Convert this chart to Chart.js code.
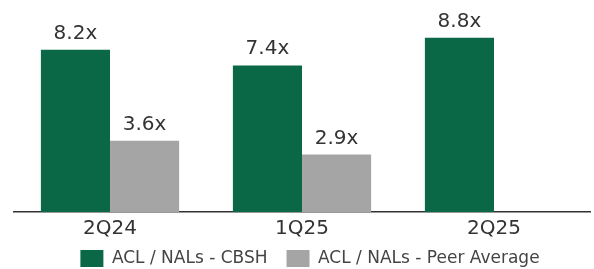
<!DOCTYPE html>
<html>
<head>
<meta charset="utf-8">
<script src="https://cdn.jsdelivr.net/npm/chart.js@4.4.1/dist/chart.umd.min.js"></script>
<style>
  html, body { margin: 0; padding: 0; background: #fff; }
  #wrap { width: 594px; height: 269px; }
</style>
</head>
<body>
<div id="wrap"><canvas id="acl"></canvas></div>
<script>
var categorias = ['2Q24', '1Q25', '2Q25'];
var valores_cbsh = [8.2, 7.4, 8.8];
var valores_peer = [3.6, 2.9, null];
var nomes_series = ['ACL / NALs - CBSH', 'ACL / NALs - Peer Average'];

var fonte = '"DejaVu Sans", sans-serif';

// rótulos em cima das barras
const rotulos_barras = {
    id: 'rotulos_barras',
    afterDatasetsDraw(chart) {
        const ctx = chart.ctx;
        ctx.save();
        ctx.font = '20px ' + fonte;
        ctx.fillStyle = '#333';
        ctx.textAlign = 'center';
        ctx.textBaseline = 'alphabetic';
        chart.data.datasets.forEach((ds, i) => {
            chart.getDatasetMeta(i).data.forEach((el, j) => {
                const v = ds.data[j];
                if (v == null) return;
                ctx.fillText(v.toFixed(1) + 'x', el.x, el.y - 11);
            });
        });
        ctx.restore();
    }
};

// aproxima a legenda do eixo e puxa um pouco para a direita
const ajusta_legenda = {
    id: 'ajusta_legenda',
    afterLayout(chart) {
        if (!chart.legend) return;
        chart.legend.top -= 15;
        chart.legend.bottom -= 15;
        chart.legend.left += 8;
        chart.legend.right += 8;
    }
};

const grafico_acl = document.getElementById('acl');

var myChart_acl = new Chart(grafico_acl, {
    type: 'bar',
    data: {
        labels: categorias,
        datasets: [{
            label: nomes_series[0],
            data: valores_cbsh,
            backgroundColor: '#0a6846'
        }, {
            label: nomes_series[1],
            data: valores_peer,
            backgroundColor: '#a5a5a5'
        }]
    },
    options: {
        responsive: true,
        maintainAspectRatio: false,
        animation: false,
        layout: { padding: { top: 14, left: 14, right: 4, bottom: -23 } },
        datasets: {
            bar: { categoryPercentage: 0.72, barPercentage: 1.0 }
        },
        plugins: {
            tooltip: { enabled: false },
            legend: {
                position: 'bottom',
                labels: {
                    boxWidth: 23,
                    boxHeight: 17,
                    padding: 19,
                    color: '#444',
                    font: { size: 17, family: fonte }
                }
            }
        },
        scales: {
            x: {
                grid: { display: false, tickLength: 0 },
                border: { display: true, color: '#333', width: 1.5 },
                ticks: { color: '#333', padding: 5, font: { size: 20, family: fonte } }
            },
            y: {
                display: false,
                min: 0,
                max: 10
            }
        }
    },
    plugins: [rotulos_barras, ajusta_legenda]
});
</script>
</body>
</html>
